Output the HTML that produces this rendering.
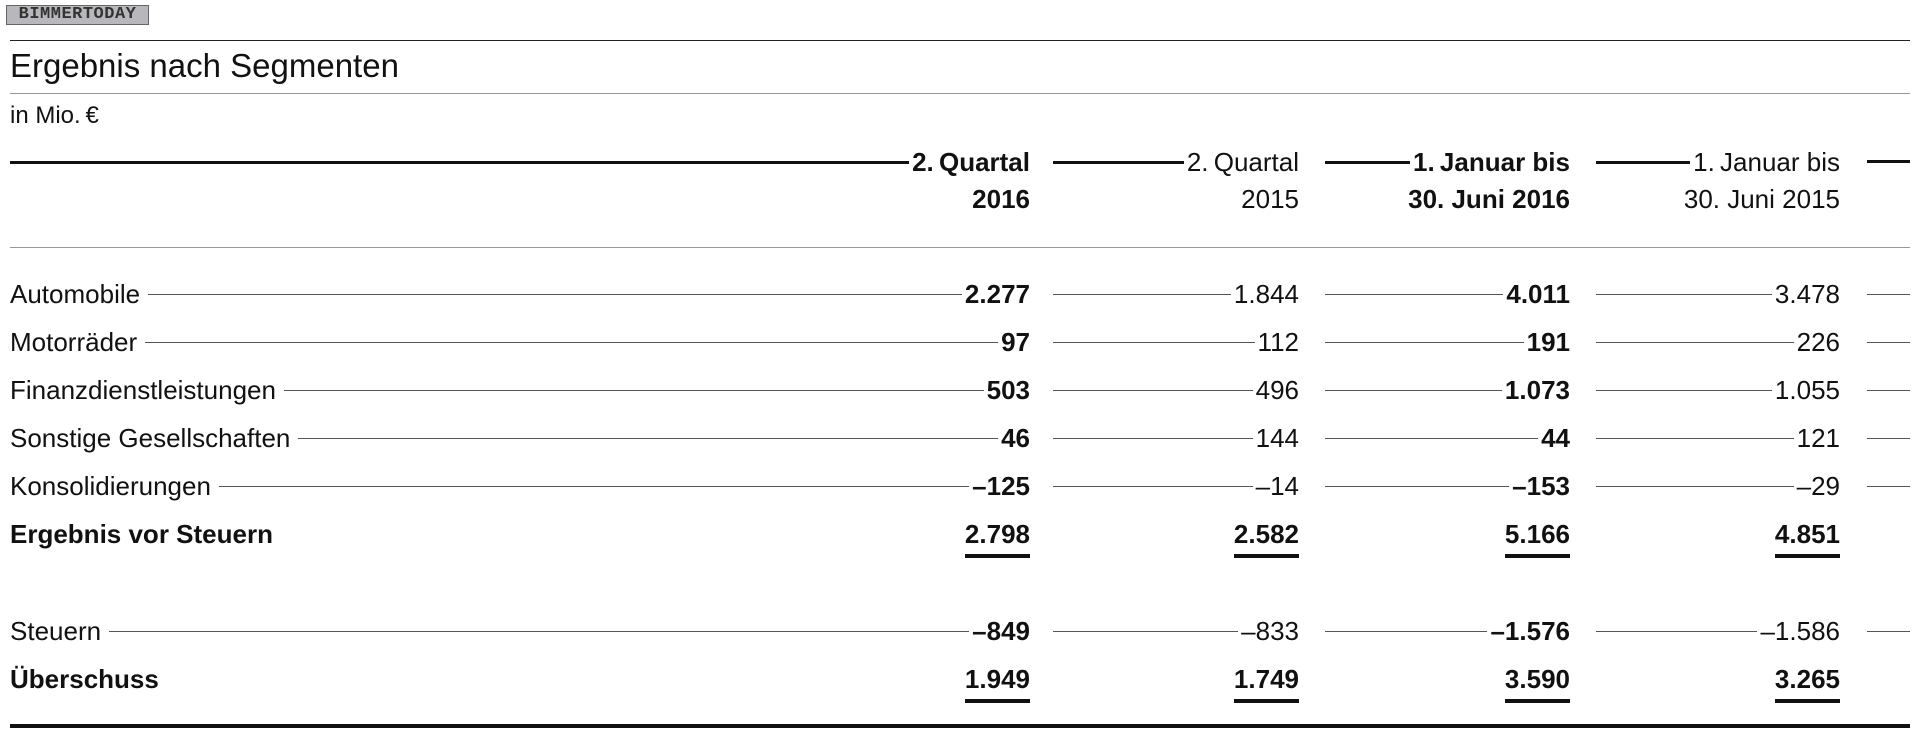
<!DOCTYPE html>
<html><head><meta charset="utf-8"><style>
body{margin:0;width:1920px;height:734px;background:#fff;position:relative;overflow:hidden;font-family:"Liberation Sans",Arial,sans-serif;color:#111}
.a{position:absolute}
.hl{position:absolute;left:10px;width:1900px}
.row{position:absolute;height:34px;display:flex;align-items:center;font-size:26px;white-space:nowrap}
.row .ln{flex:1;height:1px;background:#555;margin:0 3px 0 8px}
.row .ln.s{margin-left:0}
.b{font-weight:bold}
.hdr{position:absolute;height:34px;display:flex;align-items:center;font-size:26px;white-space:nowrap}
.hdr .ln{flex:1;height:3px;background:#111;margin-right:3px}
.u{position:relative}
.u:after{content:"";position:absolute;left:0;right:0;bottom:-8px;height:4px;background:#111}
</style></head><body>
<div class="a" style="left:6px;top:5px;width:141px;height:18px;background:#b8b8bc;border:1px solid #666;font-family:'Liberation Mono',monospace;font-weight:bold;font-size:17px;line-height:18px;color:#333;text-align:center;letter-spacing:0.5px">BIMMERTODAY</div>
<div class="hl" style="top:40px;height:1px;background:#222"></div>
<div class="a" style="left:10px;top:46px;font-size:33px;line-height:40px">Ergebnis nach Segmenten</div>
<div class="hl" style="top:93px;height:1px;background:#999"></div>
<div class="a" style="left:10px;top:101px;font-size:24px;line-height:30px">in Mio.&thinsp;€</div>

<div class="hdr b" style="left:10px;width:1020px;top:145px"><div class="ln"></div><span>2.&thinsp;Quartal</span></div>
<div class="hdr" style="left:1053px;width:246px;top:145px"><div class="ln"></div><span>2.&thinsp;Quartal</span></div>
<div class="hdr b" style="left:1325px;width:245px;top:145px"><div class="ln"></div><span>1.&thinsp;Januar bis</span></div>
<div class="hdr" style="left:1596px;width:244px;top:145px"><div class="ln"></div><span>1.&thinsp;Januar bis</span></div>
<div class="a" style="left:1867px;top:160px;width:43px;height:3px;background:#111"></div>
<div class="a b" style="right:890px;top:182px;font-size:26px;line-height:34px">2016</div>
<div class="a" style="right:621px;top:182px;font-size:26px;line-height:34px">2015</div>
<div class="a b" style="right:350px;top:182px;font-size:26px;line-height:34px">30. Juni 2016</div>
<div class="a" style="right:80px;top:182px;font-size:26px;line-height:34px">30. Juni 2015</div>
<div class="hl" style="top:247px;height:1px;background:#999"></div>

<div id="rows"></div>
<script>
var rows=[["Automobile","2.277","1.844","4.011","3.478",277],
["Motorräder","97","112","191","226",325],
["Finanzdienstleistungen","503","496","1.073","1.055",373],
["Sonstige Gesellschaften","46","144","44","121",421],
["Konsolidierungen","–125","–14","–153","–29",469],
["Steuern","–849","–833","–1.576","–1.586",614]];
var h="";
rows.forEach(function(r){var t=r[5];
h+='<div class="row" style="left:10px;width:1020px;top:'+t+'px"><span>'+r[0]+'</span><div class="ln"></div><span class="b">'+r[1]+'</span></div>';
h+='<div class="row" style="left:1053px;width:246px;top:'+t+'px"><div class="ln s"></div><span>'+r[2]+'</span></div>';
h+='<div class="row" style="left:1325px;width:245px;top:'+t+'px"><div class="ln s"></div><span class="b">'+r[3]+'</span></div>';
h+='<div class="row" style="left:1596px;width:244px;top:'+t+'px"><div class="ln s"></div><span>'+r[4]+'</span></div>';
h+='<div class="a" style="left:1867px;top:'+(t+17)+'px;width:43px;height:1px;background:#555"></div>';
});
var tot=[["Ergebnis vor Steuern","2.798","2.582","5.166","4.851",517],["Überschuss","1.949","1.749","3.590","3.265",662]];
tot.forEach(function(r){var t=r[5];
h+='<div class="row b" style="left:10px;width:1020px;top:'+t+'px"><span>'+r[0]+'</span><div style="flex:1"></div><span class="u">'+r[1]+'</span></div>';
h+='<div class="row b" style="left:1053px;width:246px;top:'+t+'px;justify-content:flex-end"><span class="u">'+r[2]+'</span></div>';
h+='<div class="row b" style="left:1325px;width:245px;top:'+t+'px;justify-content:flex-end"><span class="u">'+r[3]+'</span></div>';
h+='<div class="row b" style="left:1596px;width:244px;top:'+t+'px;justify-content:flex-end"><span class="u">'+r[4]+'</span></div>';
});
document.getElementById("rows").innerHTML=h;
</script>
<div class="hl" style="top:724px;height:4px;background:#111"></div>
</body></html>
